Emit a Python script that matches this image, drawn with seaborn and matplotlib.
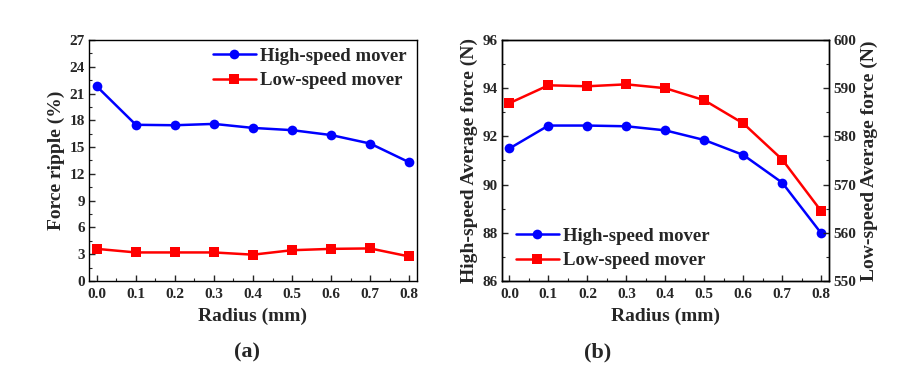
import matplotlib
matplotlib.use("Agg")
import matplotlib.pyplot as plt
import pandas as pd
import seaborn as sns
from matplotlib.ticker import MultipleLocator

radius = [0.0, 0.1, 0.2, 0.3, 0.4, 0.5, 0.6, 0.7, 0.8]
ripple_high = [21.8, 17.5, 17.45, 17.6, 17.15, 16.9, 16.35, 15.4, 13.3]
ripple_low = [3.6, 3.2, 3.2, 3.2, 2.95, 3.45, 3.6, 3.65, 2.75]
force_high = [91.5, 92.45, 92.45, 92.42, 92.25, 91.85, 91.23, 90.08, 87.98]
force_low = [586.9, 590.6, 590.4, 590.8, 590.0, 587.5, 582.7, 575.2, 564.5]

sns.set_style("ticks")
plt.rcParams['font.family'] = ['Liberation Serif', 'DejaVu Serif']
plt.rcParams['font.weight'] = 'bold'
plt.rcParams['axes.labelweight'] = 'bold'
plt.rcParams['xtick.direction'] = 'in'
plt.rcParams['ytick.direction'] = 'in'

blue = '#0000ff'
red = '#ff0000'
tick_fs = 11
lab_fs = 14
leg_fs = 13.5

df_a = pd.DataFrame({
    'Radius': radius * 2,
    'value': ripple_high + ripple_low,
    'mover': ['High-speed mover'] * 9 + ['Low-speed mover'] * 9,
})

fig = plt.figure(figsize=(9, 3.78), dpi=100)
ax_a = fig.add_axes([0.0989, 0.2566, 0.3644, 0.6376])
ax_b = fig.add_axes([0.5574, 0.2566, 0.3637, 0.6376])


def style_axis(ax):
    for s in ax.spines.values():
        s.set_linewidth(1.0)
        s.set_color('black')
    ax.tick_params(which='major', length=4, width=1, labelsize=tick_fs, pad=3)
    ax.tick_params(axis='x', which='major', pad=5)
    ax.tick_params(which='minor', length=2, width=0.8)
    for lbl in ax.get_xticklabels() + ax.get_yticklabels():
        lbl.set_fontweight('bold')


# panel (a)
sns.lineplot(data=df_a, x='Radius', y='value', hue='mover', style='mover',
             palette=[blue, red], markers=['o', 's'], dashes=False,
             markersize=7, markeredgewidth=0, linewidth=1.8, ax=ax_a)
ax_a.set_xlim(-0.02, 0.82)
ax_a.set_ylim(0, 27)
ax_a.xaxis.set_minor_locator(MultipleLocator(0.05))
ax_a.yaxis.set_major_locator(MultipleLocator(3))
ax_a.yaxis.set_minor_locator(MultipleLocator(1.5))
ax_a.set_xticks(radius)
ax_a.set_xticklabels([f'{r:.1f}' for r in radius])
ax_a.set_xlabel('Radius (mm)', fontsize=lab_fs, fontweight='bold', labelpad=5)
ax_a.set_ylabel('Force ripple (%)', fontsize=lab_fs, fontweight='bold', labelpad=3)
style_axis(ax_a)
ax_a.legend(loc='upper right', frameon=False, handlelength=2.3,
            prop={'size': leg_fs, 'weight': 'bold'}, bbox_to_anchor=(0.99, 1.0),
            borderaxespad=0, handletextpad=0.2, labelspacing=0.4)

# panel (b)
ax_b2 = ax_b.twinx()
sns.lineplot(x=radius, y=force_high, color=blue, marker='o', markersize=7,
             markeredgewidth=0, linewidth=1.8, ax=ax_b, label='High-speed mover')
sns.lineplot(x=radius, y=force_low, color=red, marker='s', markersize=6.5,
             markeredgewidth=0, linewidth=1.8, ax=ax_b2, label='Low-speed mover')
ax_b.set_xlim(-0.02, 0.82)
ax_b.set_ylim(86, 96)
ax_b2.set_ylim(550, 600)
ax_b.xaxis.set_minor_locator(MultipleLocator(0.05))
ax_b.yaxis.set_major_locator(MultipleLocator(2))
ax_b.yaxis.set_minor_locator(MultipleLocator(1))
ax_b2.yaxis.set_major_locator(MultipleLocator(10))
ax_b2.yaxis.set_minor_locator(MultipleLocator(5))
ax_b.set_xticks(radius)
ax_b.set_xticklabels([f'{r:.1f}' for r in radius])
ax_b.set_xlabel('Radius (mm)', fontsize=lab_fs, fontweight='bold', labelpad=5)
ax_b.set_ylabel('High-speed Average force (N)', fontsize=lab_fs, fontweight='bold', labelpad=3)
ax_b2.set_ylabel('Low-speed Average force (N)', fontsize=lab_fs, fontweight='bold', labelpad=3)
style_axis(ax_b)
style_axis(ax_b2)
h1, l1 = ax_b.get_legend_handles_labels()
h2, l2 = ax_b2.get_legend_handles_labels()
ax_b2.get_legend().remove()
ax_b.legend(h1 + h2, l1 + l2, loc='lower left', frameon=False, handlelength=2.3,
            prop={'size': leg_fs, 'weight': 'bold'}, bbox_to_anchor=(0.02, 0.017),
            borderaxespad=0, handletextpad=0.2, labelspacing=0.4)

fig.text(247 / 900, 1 - 352 / 378, '(a)', fontsize=16, fontweight='bold',
         ha='center', va='center')
fig.text(598 / 900, 1 - 352 / 378, '(b)', fontsize=16, fontweight='bold',
         ha='center', va='center')

fig.savefig('out.png', dpi=100)
